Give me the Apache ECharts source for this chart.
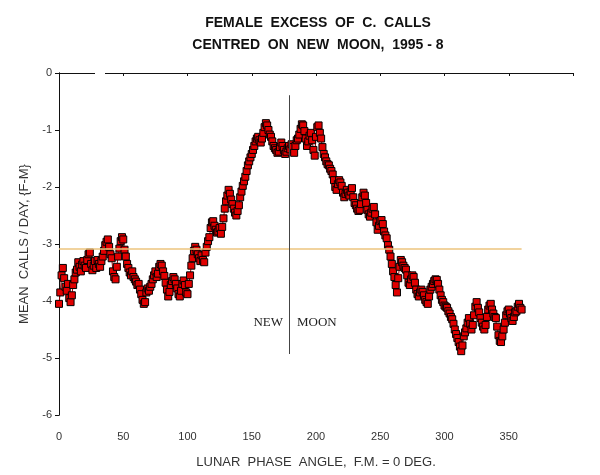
<!DOCTYPE html>
<html>
<head>
<meta charset="utf-8">
<script src="https://cdn.jsdelivr.net/npm/echarts@6/dist/echarts.min.js"></script>
<style>
  html, body { margin: 0; padding: 0; background: #fff; }
  #chart { width: 600px; height: 475px; }
</style>
</head>
<body>
<div id="chart"></div>
<script>
// 0 .. 360 deg, one value per degree
var phase = [];
for (var d = 0; d <= 360; d++) phase.push(d);

var excess = [
  -4.05, -3.85, -3.55, -3.42, -3.60, -3.75, -3.82, -3.70, -3.95, -4.02,
  -3.90, -3.72, -3.62, -3.50, -3.45, -3.32, -3.40, -3.48, -3.36, -3.30,
  -3.38, -3.42, -3.28, -3.18, -3.15, -3.35, -3.46, -3.38, -3.30, -3.42,
  -3.28, -3.35, -3.40, -3.30, -3.22, -3.12, -3.02, -2.96, -2.92, -3.05,
  -3.18, -3.25, -3.48, -3.58, -3.62, -3.40, -3.22, -3.08, -2.95, -2.88,
  -2.92, -3.10, -3.22, -3.35, -3.42, -3.50, -3.55, -3.48, -3.58, -3.62,
  -3.66, -3.72, -3.70, -3.80, -3.88, -3.98, -4.05, -4.02, -3.85, -3.78,
  -3.82, -3.75, -3.70, -3.62, -3.55, -3.48, -3.58, -3.52, -3.40, -3.35,
  -3.38, -3.48, -3.56, -3.68, -3.80, -3.92, -3.84, -3.72, -3.65, -3.58,
  -3.62, -3.70, -3.78, -3.88, -3.92, -3.82, -3.70, -3.64, -3.72, -3.85,
  -3.88, -3.70, -3.55, -3.38, -3.25, -3.12, -3.05, -3.10, -3.18, -3.25,
  -3.30, -3.20, -3.28, -3.32, -3.15, -3.05, -2.95, -2.88, -2.72, -2.62,
  -2.60, -2.68, -2.75, -2.80, -2.78, -2.72, -2.82, -2.70, -2.55, -2.38,
  -2.25, -2.15, -2.05, -2.12, -2.22, -2.30, -2.38, -2.45, -2.50, -2.42,
  -2.32, -2.18, -2.08, -1.98, -1.90, -1.82, -1.72, -1.62, -1.55, -1.48,
  -1.42, -1.35, -1.28, -1.20, -1.15, -1.12, -1.18, -1.22, -1.15, -1.05,
  -0.95, -0.88, -0.92, -1.00, -1.08, -1.12, -1.20, -1.28, -1.32, -1.35,
  -1.40, -1.38, -1.30, -1.22, -1.28, -1.35, -1.42, -1.38, -1.32, -1.28,
  -1.34, -1.25, -1.30, -1.40, -1.28, -1.18, -1.15, -1.08, -0.98, -0.90,
  -0.92, -1.02, -1.15, -1.28, -1.20, -1.10, -1.05, -1.18, -1.35, -1.45,
  -1.12, -0.95, -0.92, -1.05, -1.15, -1.30, -1.42, -1.48, -1.55, -1.60,
  -1.62, -1.68, -1.72, -1.78, -1.88, -2.00, -2.05, -1.95, -1.88, -1.92,
  -1.98, -2.10, -2.18, -2.12, -2.05, -2.10, -2.15, -2.08, -2.02, -2.18,
  -2.28, -2.32, -2.38, -2.42, -2.40, -2.30, -2.18, -2.10, -2.15, -2.28,
  -2.40, -2.48, -2.52, -2.45, -2.38, -2.35, -2.48, -2.62, -2.75, -2.68,
  -2.60, -2.58, -2.65, -2.78, -2.85, -2.90, -3.02, -3.10, -3.22, -3.35,
  -3.48, -3.58, -3.72, -3.85, -3.60, -3.40, -3.28, -3.32, -3.38, -3.42,
  -3.45, -3.55, -3.68, -3.72, -3.62, -3.55, -3.58, -3.68, -3.80, -3.88,
  -3.92, -3.85, -3.80, -3.84, -3.90, -3.98, -4.02, -4.05, -3.92, -3.80,
  -3.75, -3.70, -3.65, -3.62, -3.63, -3.70, -3.80, -3.90, -3.98, -4.02,
  -4.08, -4.10, -4.12, -4.18, -4.22, -4.28, -4.32, -4.40, -4.50, -4.58,
  -4.65, -4.72, -4.80, -4.88, -4.78, -4.62, -4.55, -4.48, -4.38, -4.30,
  -4.40, -4.50, -4.42, -4.25, -4.10, -4.02, -4.12, -4.20, -4.30, -4.38,
  -4.45, -4.50, -4.42, -4.28, -4.15, -4.08, -4.05, -4.15, -4.22, -4.28,
  -4.30, -4.45, -4.60, -4.70, -4.72, -4.62, -4.50, -4.38, -4.25, -4.18,
  -4.15, -4.22, -4.30, -4.35, -4.28, -4.20, -4.18, -4.10, -4.05, -4.12,
  -4.15
];

// reference lines
var meanLevel = -3.08;
var meanSpan = [0, 360];
var newMoon = 179;
var newMoonSpan = [-0.39, -4.93];

var xTicks = [0, 50, 100, 150, 200, 250, 300, 350];

var chart = echarts.init(document.getElementById('chart'));

var points = phase.map(function (p, i) { return [p, excess[i]]; });

var option = {
  animation: false,
  backgroundColor: '#fff',
  title: {
    text: 'FEMALE  EXCESS  OF  C.  CALLS\nCENTRED  ON  NEW  MOON,  1995 - 8',
    left: 313,
    top: 7,
    textAlign: 'center',
    textStyle: {
      fontFamily: 'Liberation Sans',
      fontSize: 14,
      fontWeight: 'bold',
      color: '#111',
      lineHeight: 22
    }
  },
  grid: { left: 59, right: 27, top: 73, bottom: 60 },
  xAxis: [{
    type: 'value',
    min: 0, max: 400, interval: 50,
    name: 'LUNAR  PHASE  ANGLE,  F.M. = 0 DEG.',
    nameLocation: 'middle',
    nameGap: 41,
    nameTextStyle: { fontFamily: 'Liberation Sans', fontSize: 13, color: '#333' },
    axisLine: { lineStyle: { color: '#111', width: 1 } },
    axisTick: { show: false },
    splitLine: { show: false },
    axisLabel: {
      margin: 16,
      fontFamily: 'Liberation Sans', fontSize: 11, color: '#333',
      formatter: function (v) { return xTicks.indexOf(v) >= 0 ? String(v) : ''; }
    }
  }, {
    type: 'value',
    position: 'top',
    min: 0, max: 400, interval: 50,
    axisLine: { show: true, lineStyle: { color: '#111', width: 1 } },
    axisTick: { show: true, inside: true, length: 3, lineStyle: { color: '#111' } },
    axisLabel: { show: false },
    splitLine: { show: false }
  }],
  yAxis: [{
    type: 'value',
    min: -6, max: 0, interval: 1,
    name: 'MEAN  CALLS / DAY, {F-M}',
    nameLocation: 'middle',
    nameGap: 28,
    nameTextStyle: { fontFamily: 'Liberation Sans', fontSize: 13, color: '#333' },
    axisLine: { show: true, lineStyle: { color: '#111', width: 1 } },
    axisTick: { show: true, length: 4, lineStyle: { color: '#111' } },
    splitLine: { show: false },
    axisLabel: { margin: 7, fontFamily: 'Liberation Sans', fontSize: 11, color: '#333' }
  }, {
    type: 'value',
    position: 'right',
    min: -6, max: 0, interval: 1,
    axisLine: { show: true, lineStyle: { color: '#111', width: 1 } },
    axisTick: { show: false },
    axisLabel: { show: false },
    splitLine: { show: false }
  }],
  series: [{
    type: 'line',
    data: points,
    symbol: 'rect',
    symbolSize: 7,
    itemStyle: { color: '#e00000', borderColor: '#000', borderWidth: 1 },
    lineStyle: { color: '#a00000', width: 1 },
    z: 3,
    markLine: {
      silent: true,
      symbol: 'none',
      label: { show: false },
      data: [
        [{ coord: [meanSpan[0], meanLevel], lineStyle: { color: '#ecc47e', width: 1.5, type: 'solid' } },
         { coord: [meanSpan[1], meanLevel] }],
        [{ coord: [newMoon, newMoonSpan[0]], lineStyle: { color: '#444', width: 1, type: 'solid' } },
         { coord: [newMoon, newMoonSpan[1]] }]
      ]
    }
  }],
  graphic: [
    { type: 'rect', shape: { x: 95, y: 71, width: 10, height: 4 }, style: { fill: '#fff' }, z: 100 },
    { type: 'text', x: 283, y: 323, style: { text: 'NEW', font: '13px "Liberation Serif"', fill: '#222', textAlign: 'right', textVerticalAlign: 'middle' } },
    { type: 'text', x: 297, y: 323, style: { text: 'MOON', font: '13px "Liberation Serif"', fill: '#222', textAlign: 'left', textVerticalAlign: 'middle' } }
  ]
};

chart.setOption(option);
</script>
</body>
</html>
